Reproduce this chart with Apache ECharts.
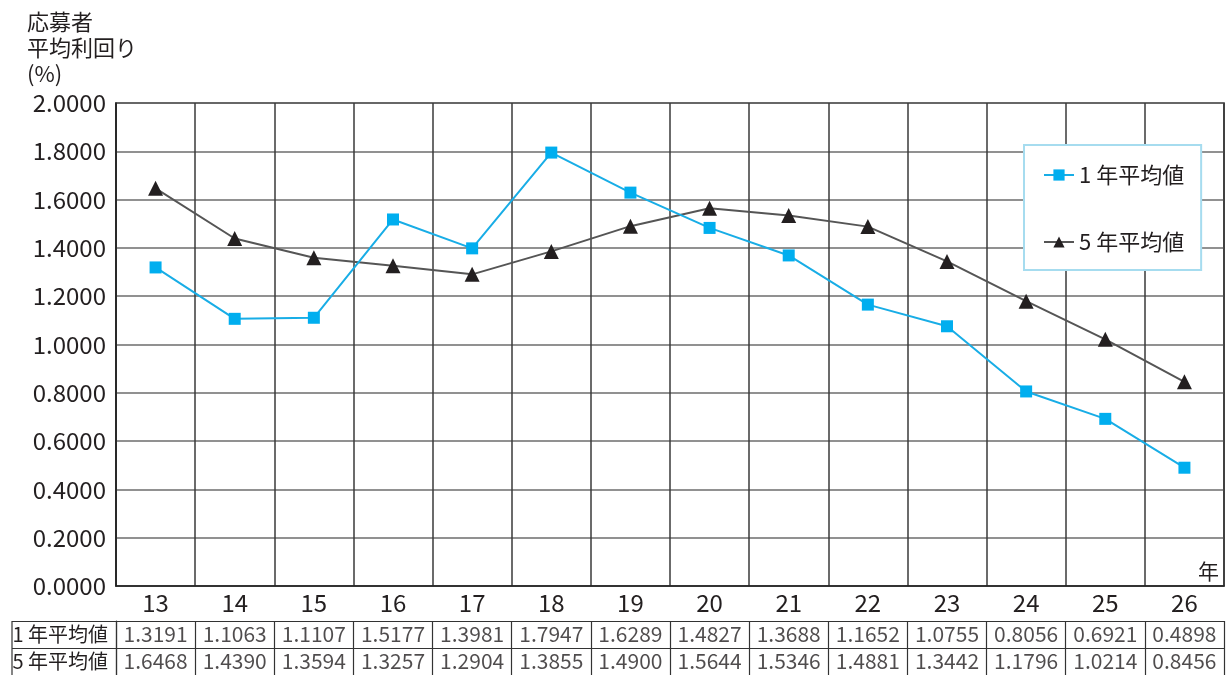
<!DOCTYPE html>
<html><head><meta charset="utf-8">
<script src="https://cdn.jsdelivr.net/npm/echarts@6/dist/echarts.min.js"></script>
<style>html,body{margin:0;padding:0;background:#fff}#c{width:1229px;height:675px}</style>
</head><body><div id="c"></div>
<script>
const categories = ['13','14','15','16','17','18','19','20','21','22','23','24','25','26'];
const oneYear = [1.3191,1.1063,1.1107,1.5177,1.3981,1.7947,1.6289,1.4827,1.3688,1.1652,1.0755,0.8056,0.6921,0.4898];
const fiveYear = [1.6468,1.4390,1.3594,1.3257,1.2904,1.3855,1.4900,1.5644,1.5346,1.4881,1.3442,1.1796,1.0214,0.8456];
const seriesNames = ['1 年平均値','5 年平均値'];
const yTitle = '応募者\n平均利回り\n(%)';
const xUnit = '年';

const FONT = '"Noto Sans CJK JP","Noto Sans",sans-serif';
const TXT = '#231f20';
const chart = echarts.init(document.getElementById('c'), null, {renderer:'canvas'});

const tableData = [];
categories.forEach((c,i)=>{
  tableData.push([c, seriesNames[0], oneYear[i]]);
  tableData.push([c, seriesNames[1], fiveYear[i]]);
});

chart.setOption({
  animation:false,
  textStyle:{fontFamily:FONT,color:TXT},
  grid:[
    {left:116,right:5,top:103,bottom:89,show:true,borderColor:'#222',borderWidth:1.5,backgroundColor:'transparent'},
    {left:116,right:5,top:621,height:54}
  ],
  legend:{
    data:seriesNames, orient:'vertical', left:1024, top:145,
    padding:[19,17,17,19], itemGap:45, itemWidth:30, itemHeight:14,
    borderColor:'#a6dcef', borderWidth:2, backgroundColor:'#fff',
    textStyle:{fontSize:22,color:TXT,fontFamily:FONT}
  },
  xAxis:[
    {type:'category',gridIndex:0,data:categories,boundaryGap:true,
     axisLine:{lineStyle:{color:'#222',width:1.5}},axisTick:{show:false},
     axisLabel:{fontSize:24,color:TXT,margin:5,interval:0},
     splitLine:{show:true,interval:0,lineStyle:{color:'#3a3a3a',width:1.5}}},
    {type:'category',gridIndex:1,data:categories,boundaryGap:true,position:'top',
     axisLine:{show:true,lineStyle:{color:'#333',width:1.2}},axisTick:{show:false},axisLabel:{show:false},
     splitLine:{show:true,interval:0,lineStyle:{color:'#333',width:1.2}}}
  ],
  yAxis:[
    {type:'value',gridIndex:0,min:0,max:2,interval:0.2,
     name:yTitle,nameLocation:'end',nameGap:0,
     nameTextStyle:{fontSize:22,color:TXT,align:'left',verticalAlign:'bottom',lineHeight:26,padding:[0,0,4,-89]},
     axisLine:{show:true,lineStyle:{color:'#222',width:1.5}},axisTick:{show:false},
     axisLabel:{fontSize:24,color:TXT,margin:10,formatter:v=>v.toFixed(4)},
     splitLine:{show:true,lineStyle:{color:'#6d6d6d',width:1.5}}},
    {type:'category',gridIndex:1,data:seriesNames,inverse:true,boundaryGap:true,
     axisLine:{show:true,lineStyle:{color:'#333',width:1.2}},
     axisTick:{show:true,interval:0,length:104,lineStyle:{color:'#333',width:1.2}},
     axisLabel:{fontSize:20,color:TXT,margin:8,interval:0},
     splitLine:{show:true,interval:0,lineStyle:{color:'#333',width:1.2}}}
  ],
  graphic:[
    {type:'line',shape:{x1:12,y1:621,x2:12,y2:675},style:{stroke:'#333',lineWidth:1.2}},
    {type:'text',right:10,top:561,style:{text:xUnit,fontSize:21,fill:TXT,fontFamily:FONT}}
  ],
  series:[
    {name:seriesNames[0],type:'line',xAxisIndex:0,yAxisIndex:0,data:oneYear,
     symbol:'rect',symbolSize:12,lineStyle:{color:'#18ade6',width:2},itemStyle:{color:'#00aeef'},z:3},
    {name:seriesNames[1],type:'line',xAxisIndex:0,yAxisIndex:0,data:fiveYear,
     symbol:'triangle',symbolSize:15,lineStyle:{color:'#555',width:2},itemStyle:{color:'#231f20'},z:2},
    {name:'table',type:'scatter',xAxisIndex:1,yAxisIndex:1,data:tableData,symbolSize:0,silent:true,
     label:{show:true,position:'inside',fontSize:21,color:TXT,fontFamily:FONT,formatter:p=>p.value[2].toFixed(4)}}
  ]
});
</script></body></html>
